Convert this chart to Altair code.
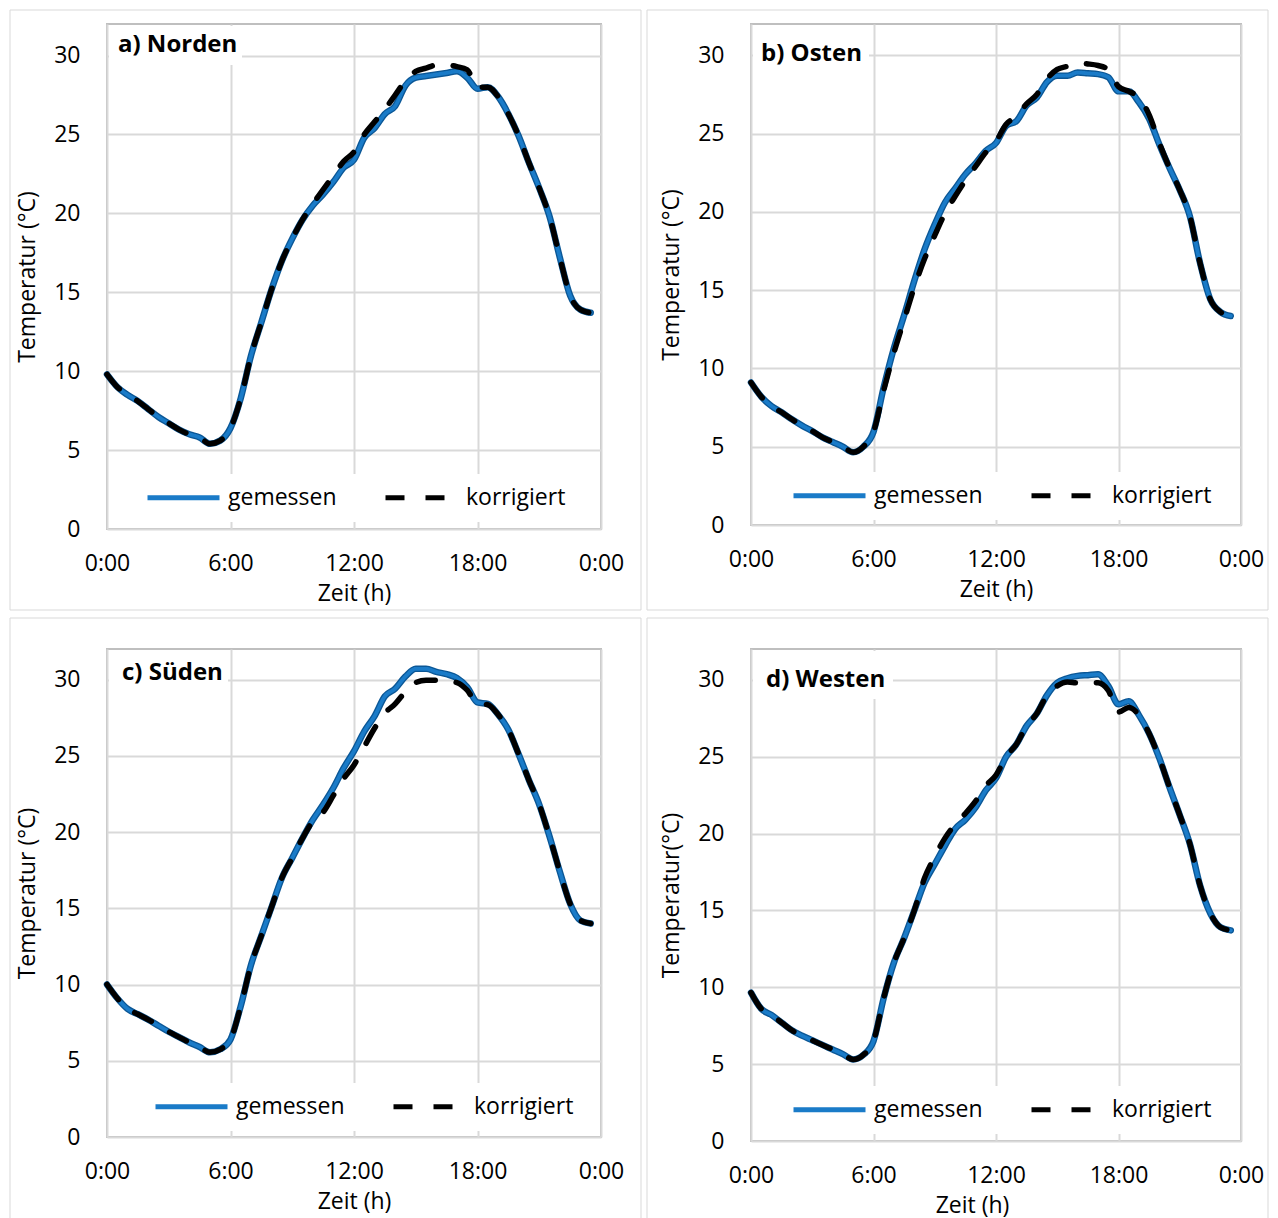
import altair as alt
import pandas as pd

HOURS = [0.0, 0.5, 1.0, 1.5, 2.0, 2.5, 3.0, 3.5, 4.0, 4.5,
         5.0, 5.5, 6.0, 6.5, 7.0, 7.5, 8.0, 8.5, 9.0, 9.5,
         10.0, 10.5, 11.0, 11.5, 12.0, 12.5, 13.0, 13.5, 14.0, 14.5,
         15.0, 15.5, 16.0, 16.5, 17.0, 17.5, 18.0, 18.5, 19.0, 19.5,
         20.0, 20.5, 21.0, 21.5, 22.0, 22.5, 23.0, 23.5]

SERIES = ["gemessen", "korrigiert"]
X_TICKS = [0, 6, 12, 18, 24]
Y_TICKS = [0, 5, 10, 15, 20, 25, 30]

nord_gem = [9.8, 9.0, 8.5, 8.1, 7.6, 7.1, 6.7, 6.3, 6.0, 5.8,
            5.4, 5.6, 6.4, 8.3, 11.0, 13.1, 15.2, 17.0, 18.4, 19.6,
            20.5, 21.2, 22.0, 22.9, 23.4, 24.8, 25.4, 26.3, 26.8, 28.1,
            28.6, 28.7, 28.8, 28.9, 29.0, 28.6, 27.9, 28.0, 27.4, 26.3,
            24.9, 23.2, 21.6, 19.8, 17.2, 14.8, 13.9, 13.7]
nord_kor = [9.8, 9.0, 8.5, 8.1, 7.6, 7.1, 6.7, 6.3, 6.0, 5.8,
            5.4, 5.6, 6.4, 8.3, 11.0, 13.1, 15.2, 17.0, 18.4, 19.6,
            20.6, 21.5, 22.4, 23.3, 23.9, 25.0, 25.8, 26.6, 27.5, 28.4,
            29.0, 29.2, 29.4, 29.4, 29.3, 29.1, 28.0, 28.0, 27.4, 26.3,
            24.9, 23.2, 21.6, 19.8, 17.2, 14.8, 13.9, 13.7]

ost_gem = [9.1, 8.2, 7.6, 7.2, 6.75, 6.35, 6.0, 5.6, 5.3, 5.0,
           4.65, 5.0, 5.95, 8.8, 11.3, 13.4, 15.6, 17.6, 19.2, 20.6,
           21.5, 22.4, 23.1, 23.9, 24.4, 25.5, 25.8, 26.8, 27.3, 28.3,
           28.7, 28.7, 28.9, 28.85, 28.8, 28.6, 27.7, 27.7, 27.0, 25.95,
           24.3, 22.8, 21.4, 19.7, 16.7, 14.4, 13.6, 13.35]
ost_kor = [9.1, 8.2, 7.6, 7.2, 6.75, 6.35, 6.0, 5.6, 5.3, 5.0,
           4.65, 5.0, 5.95, 8.6, 11.0, 13.1, 15.2, 17.0, 18.5, 19.9,
           21.0, 22.0, 22.9, 23.8, 24.5, 25.6, 26.1, 26.9, 27.5, 28.5,
           29.1, 29.3, 29.5, 29.45, 29.35, 29.1, 28.0, 27.7, 27.3, 26.2,
           24.4, 22.8, 21.4, 19.7, 16.7, 14.4, 13.6, 13.35]

sued_gem = [10.0, 9.1, 8.4, 8.05, 7.7, 7.3, 6.9, 6.55, 6.2, 5.9,
            5.55, 5.75, 6.4, 8.6, 11.3, 13.2, 15.1, 17.0, 18.3, 19.6,
            20.8, 21.8, 22.9, 24.2, 25.3, 26.6, 27.6, 28.9, 29.4, 30.2,
            30.7, 30.7, 30.5, 30.35, 30.1, 29.5, 28.5, 28.4, 27.7, 26.7,
            25.1, 23.4, 21.8, 19.7, 17.4, 15.3, 14.2, 14.0]
sued_kor = [10.0, 9.1, 8.4, 8.05, 7.7, 7.3, 6.9, 6.55, 6.2, 5.9,
            5.55, 5.75, 6.4, 8.6, 11.3, 13.2, 15.1, 17.0, 18.3, 19.6,
            20.7, 21.3, 22.4, 23.5, 24.4, 25.6, 26.8, 27.8, 28.4, 29.2,
            29.8, 29.95, 29.95, 29.9, 29.8, 29.3, 28.4, 28.35, 27.7, 26.7,
            25.1, 23.4, 21.8, 19.7, 17.4, 15.3, 14.2, 14.0]

west_gem = [9.65, 8.6, 8.2, 7.7, 7.2, 6.85, 6.55, 6.25, 5.95, 5.65,
            5.3, 5.6, 6.5, 9.3, 11.6, 13.2, 15.0, 16.8, 18.0, 19.2,
            20.3, 20.9, 21.7, 22.8, 23.6, 25.0, 25.8, 27.0, 27.8, 29.0,
            29.8, 30.1, 30.25, 30.3, 30.35, 29.6, 28.4, 28.6, 27.7, 26.5,
            24.9, 23.0, 21.2, 19.3, 16.6, 14.8, 13.9, 13.7]
west_kor = [9.65, 8.6, 8.2, 7.7, 7.2, 6.85, 6.55, 6.25, 5.95, 5.65,
            5.3, 5.6, 6.5, 9.3, 11.6, 13.2, 15.0, 17.1, 18.5, 19.7,
            20.6, 21.3, 22.1, 23.1, 23.8, 25.0, 25.8, 27.0, 27.8, 29.0,
            29.6, 29.85, 29.8, 29.8, 29.8, 29.3, 27.9, 28.2, 27.7, 26.5,
            24.9, 23.0, 21.2, 19.3, 16.6, 14.8, 13.9, 13.7]

FONT = "Open Sans"
BLUE = "#1a7bc8"
BLUE_EDGE = "#0b5796"
BLACK = "#000000"
FRAME = "#d9d9d9"


def panel(title, ytitle, gem, kor, lay):
    w, h = lay["w"], lay["h"]
    df = pd.DataFrame({
        "hour": HOURS + HOURS,
        "temp": gem + kor,
        "series": ["gemessen"] * len(HOURS) + ["korrigiert"] * len(HOURS),
    })
    one = pd.DataFrame({"k": [0]})

    x_axis = alt.Axis(values=X_TICKS, labelExpr="floor(datum.value % 24) + ':00'",
                      title="Zeit (h)", labelFlush=False,
                      **({"titleX": lay["xtitle_x"]} if "xtitle_x" in lay else {}))
    x = alt.X("hour:Q", scale=alt.Scale(domain=[0, 24], nice=False, zero=False), axis=x_axis)
    y = alt.Y("temp:Q", scale=alt.Scale(domain=[0, 32], nice=False),
              axis=alt.Axis(values=Y_TICKS, title=ytitle, labelFlush=False))

    sx, cy = lay["sym_x"], lay["leg_cy"]
    leg = alt.Legend(title=None, orient="none", legendX=sx - 5, legendY=cy - 39,
                     direction="horizontal", symbolType="stroke", symbolSize=5184,
                     symbolStrokeWidth=5, labelFont=FONT, labelFontSize=23,
                     labelColor="black", columnPadding=38, labelOffset=6, padding=0)
    color = alt.Color("series:N", scale=alt.Scale(domain=SERIES, range=[BLUE, BLACK]), legend=leg)
    dash = alt.StrokeDash("series:N", scale=alt.Scale(domain=SERIES, range=[[1, 0], [19, 21]]),
                          legend=leg)

    frame = alt.Chart(one).mark_rect(clip=False, fill="white", fillOpacity=0,
                                     stroke=FRAME, strokeWidth=1).encode(
        x=alt.value(lay["fx"][0]), x2=alt.value(lay["fx"][1]),
        y=alt.value(lay["fy"][0]), y2=alt.value(lay["fy"][1]))
    tbox = alt.Chart(one).mark_rect(fill="white").encode(
        x=alt.value(2), x2=alt.value(lay["tbox_w"]), y=alt.value(2), y2=alt.value(lay["tbox_h"]))
    lbox = alt.Chart(one).mark_rect(fill="white").encode(
        x=alt.value(sx - 10), x2=alt.value(sx + 428),
        y=alt.value(cy - 24), y2=alt.value(cy + 24))

    base = alt.Chart(df)
    edge = base.transform_filter(alt.datum.series == "gemessen").mark_line(
        color=BLUE_EDGE, strokeWidth=6.5, interpolate="monotone", strokeCap="round").encode(x=x, y=y)
    blue = base.transform_filter(alt.datum.series == "gemessen").mark_line(
        strokeWidth=3.8, interpolate="monotone", strokeCap="round").encode(
        x=x, y=y, color=color, strokeDash=dash)
    black = base.transform_filter(alt.datum.series == "korrigiert").mark_line(
        strokeWidth=5.5, interpolate="monotone", strokeCap="round").encode(
        x=x, y=y, color=color, strokeDash=dash)
    ttext = alt.Chart(one).mark_text(text=title, font=FONT, fontSize=24, fontWeight="bold",
                                     align="left", baseline="alphabetic", color="black").encode(
        x=alt.value(lay["tx"]), y=alt.value(lay["tbase"]))

    return alt.layer(frame, tbox, lbox, edge, blue, black, ttext).properties(width=w, height=h)


# plot origins: column 0 at page x=105, column 1 at x=749; row 0 at y=22, row 1 at y=647
LAY_A = dict(w=494, h=505, fx=(-97, 534), fy=(-14, 586), tbox_w=135, tbox_h=41,
             tbase=28, tx=11, sym_x=43, leg_cy=474)
LAY_B = dict(w=490, h=501, fx=(-104, 517), fy=(-14, 586), tbox_w=118, tbox_h=48,
             tbase=37, tx=10, sym_x=45, leg_cy=472)
LAY_C = dict(w=494, h=488, fx=(-97, 534), fy=(-31, 570), tbox_w=121, tbox_h=43,
             tbase=31, tx=15, sym_x=51, leg_cy=458)
LAY_D = dict(w=490, h=492, fx=(-104, 517), fy=(-31, 570), tbox_w=142, tbox_h=50,
             tbase=38, tx=15, sym_x=45, leg_cy=461, xtitle_x=221)

pa = panel("a) Norden", "Temperatur (°C)", nord_gem, nord_kor, LAY_A)
pb = panel("b) Osten", "Temperatur (°C)", ost_gem, ost_kor, LAY_B)
pc = panel("c) Süden", "Temperatur (°C)", sued_gem, sued_kor, LAY_C)
pd_ = panel("d) Westen", "Temperatur(°C)", west_gem, west_kor, LAY_D)

chart = alt.concat(pa, pb, pc, pd_, columns=2, bounds="flush", align="all",
                   spacing={"row": 120, "column": 150}).resolve_scale(
    color="independent", strokeDash="independent").resolve_legend(
    color="independent", strokeDash="independent").properties(padding=0).configure(
    background="white").configure_view(stroke="#bfbfbf", strokeWidth=2).configure_axis(
    grid=True, gridColor="#d9d9d9", gridWidth=2, domain=False, ticks=False,
    labelFont=FONT, labelFontSize=23, labelColor="black",
    titleFont=FONT, titleFontSize=23, titleFontWeight="normal", titleColor="black").configure_axisX(
    labelPadding=23, titlePadding=7).configure_axisY(labelPadding=27, titlePadding=14)

chart.save("out.html", embed_options={"renderer": "svg", "actions": False})
